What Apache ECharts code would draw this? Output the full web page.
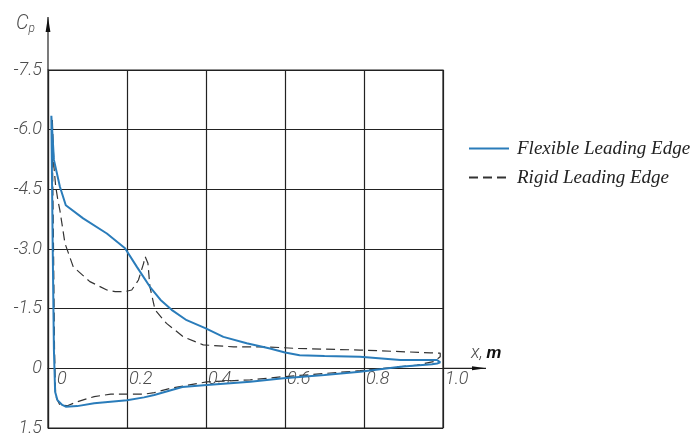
<!DOCTYPE html>
<html><head><meta charset="utf-8">
<script src="https://cdn.jsdelivr.net/npm/echarts@6/dist/echarts.min.js"></script>
<style>html,body{margin:0;padding:0;background:#fff}#c{width:698px;height:434px}</style>
</head><body><div id="c"></div>
<script>
// ---- tick values and labels ----
const xTicks = [0, 0.2, 0.4, 0.6, 0.8, 1.0];
const xTickLabels = ['0', '0.2', '0.4', '0.6', '0.8', '1.0'];
const yTicks = [-7.5, -6, -4.5, -3, -1.5, 0, 1.5];
const yTickLabels = ['-7.5', '-6.0', '-4.5', '-3.0', '-1.5', '0', '1.5'];
const seriesNames = ['Flexible Leading Edge', 'Rigid Leading Edge'];

// ---- Flexible leading edge: upper surface (LE -> TE) ----
const flexUpperX  = [0.0085, 0.012, 0.015, 0.030, 0.045, 0.089, 0.149, 0.195, 0.225, 0.258, 0.285, 0.313, 0.351, 0.398, 0.444, 0.503, 0.562, 0.600, 0.637, 0.700, 0.790, 0.892, 0.985, 0.993];
const flexUpperCp = [-6.35, -5.75, -5.24, -4.57, -4.10, -3.77, -3.39, -3.02, -2.55, -2.05, -1.72, -1.47, -1.21, -1.01, -0.79, -0.63, -0.50, -0.40, -0.33, -0.31, -0.29, -0.21, -0.21, -0.15];
// ---- Flexible leading edge: lower surface (TE -> LE) ----
const flexLowerX  = [0.985, 0.972, 0.892, 0.790, 0.700, 0.596, 0.512, 0.402, 0.340, 0.311, 0.269, 0.243, 0.200, 0.117, 0.074, 0.045, 0.036, 0.024, 0.018, 0.015, 0.012, 0.0094, 0.0085];
const flexLowerCp = [-0.12, -0.10, -0.04, 0.085, 0.17, 0.25, 0.34, 0.42, 0.47, 0.55, 0.67, 0.73, 0.80, 0.88, 0.95, 0.965, 0.92, 0.80, 0.59, -0.46, -2.97, -5.50, -6.35];

// ---- Rigid leading edge: upper surface (LE -> TE) ----
const rigidUpperX  = [0.011, 0.015, 0.0195, 0.025, 0.030, 0.043, 0.064, 0.106, 0.149, 0.170, 0.195, 0.212, 0.229, 0.242, 0.246, 0.253, 0.258, 0.271, 0.300, 0.343, 0.393, 0.470, 0.554, 0.630, 0.790, 0.892, 0.968, 0.993];
const rigidUpperCp = [-6.24, -5.07, -4.57, -4.23, -3.98, -3.14, -2.55, -2.18, -1.97, -1.93, -1.93, -1.97, -2.22, -2.64, -2.81, -2.64, -2.05, -1.47, -1.13, -0.79, -0.59, -0.54, -0.54, -0.50, -0.46, -0.42, -0.39, -0.38];
// ---- Rigid leading edge: lower surface (TE -> LE) ----
const rigidLowerX  = [0.993, 0.976, 0.934, 0.790, 0.596, 0.512, 0.402, 0.334, 0.311, 0.269, 0.243, 0.159, 0.117, 0.074, 0.049, 0.030, 0.0215, 0.019, 0.0165, 0.014, 0.0114, 0.011];
const rigidLowerCp = [-0.29, -0.17, -0.08, 0.06, 0.21, 0.29, 0.34, 0.46, 0.50, 0.61, 0.65, 0.65, 0.71, 0.84, 0.94, 0.92, 0.75, 0.55, -0.46, -2.97, -5.24, -6.24];

function zip(xs, ys) { return xs.map((x, i) => [x, ys[i]]); }
const flexData = zip(flexUpperX.concat(flexLowerX), flexUpperCp.concat(flexLowerCp));
const rigidData = zip(rigidUpperX.concat(rigidLowerX), rigidUpperCp.concat(rigidLowerCp));

function lookup(ticks, labels, v) {
  const i = ticks.findIndex(t => Math.abs(t - v) < 1e-9);
  return i >= 0 ? labels[i] : '';
}

const chart = echarts.init(document.getElementById('c'), null, { renderer: 'canvas' });
const techFont = 'Roboto, "Liberation Sans", sans-serif';
const labelFont = { fontFamily: techFont, fontStyle: 'italic', fontWeight: 300, fontSize: 18, color: '#4d4d4d' };
const gridColor = '#222';

chart.setOption({
  animation: false,
  grid: { left: 48, right: 255, top: 70, bottom: 6, show: true, borderColor: gridColor, borderWidth: 1.2,
          containLabel: false, outerBoundsMode: 'none' },
  xAxis: {
    type: 'value', min: 0, max: 1, interval: 0.2, position: 'bottom', offset: 0,
    axisLine: { onZero: false, lineStyle: { color: gridColor, width: 1.2 } },
    axisTick: { show: false },
    splitLine: { show: true, lineStyle: { color: gridColor, width: 1.2 } },
    axisLabel: {
      ...labelFont, align: 'left', margin: 2,
      formatter: v => (v === 0 ? '{z|' : '{n|') + lookup(xTicks, xTickLabels, v) + '}',
      rich: { z: { ...labelFont, padding: [0, 0, 0, 9] }, n: { ...labelFont, padding: [0, 0, 0, 2] } }
    },
    name: '{a|x,} {b|m}', nameLocation: 'end', nameGap: 28,
    nameTextStyle: {
      align: 'left', verticalAlign: 'bottom', padding: [0, 0, 6, 0],
      rich: {
        a: { fontFamily: techFont, fontStyle: 'italic', fontWeight: 300, fontSize: 18, color: '#4d4d4d' },
        b: { fontFamily: 'Liberation Sans', fontStyle: 'italic', fontWeight: 'bold', fontSize: 17, color: '#111' }
      }
    }
  },
  yAxis: {
    type: 'value', inverse: true, min: -7.5, max: 1.5, interval: 1.5,
    axisLine: { show: true, onZero: false, lineStyle: { color: gridColor, width: 1.2 } },
    axisTick: { show: false },
    splitLine: { show: true, lineStyle: { color: gridColor, width: 1.2 } },
    axisLabel: { ...labelFont, margin: 6, formatter: v => lookup(yTicks, yTickLabels, v) },
    name: '{c|C}{p|p}', nameLocation: 'start', nameGap: 46,
    nameTextStyle: {
      align: 'right', verticalAlign: 'middle', padding: [0, 13, 0, 0],
      rich: {
        c: { fontFamily: techFont, fontStyle: 'italic', fontWeight: 300, fontSize: 20, color: '#4d4d4d' },
        p: { fontFamily: techFont, fontStyle: 'italic', fontWeight: 300, fontSize: 12, color: '#4d4d4d', padding: [10, 0, 0, 0] }
      }
    }
  },
  legend: {
    orient: 'vertical', left: 468, top: 139, padding: 0, itemWidth: 40, itemHeight: 14, itemGap: 10,
    data: seriesNames,
    itemStyle: { opacity: 0 },
    textStyle: { fontFamily: 'Liberation Serif', fontStyle: 'italic', fontSize: 19, color: '#222', padding: [0, 0, 0, 3] }
  },
  series: [
    { type: 'line', name: seriesNames[0], data: flexData, symbol: 'none', z: 3,
      lineStyle: { color: '#2a7cba', width: 2 }, itemStyle: { color: '#2a7cba' } },
    { type: 'line', name: seriesNames[1], data: rigidData, symbol: 'none', z: 2,
      lineStyle: { color: '#333', width: 1.2, type: [9, 5] }, itemStyle: { color: '#333' } }
  ]
});

// move the x axis (line, labels, name) to Cp = 0, computed through the axis scale
const pZero = chart.convertToPixel({ gridIndex: 0 }, [xTicks[0], 0]);
const pBottom = chart.convertToPixel({ gridIndex: 0 }, [xTicks[0], yTicks[yTicks.length - 1]]);
chart.setOption({ xAxis: { offset: pZero[1] - pBottom[1] } });

// axis arrow extensions beyond the plotting box
const pTop = chart.convertToPixel({ gridIndex: 0 }, [xTicks[0], yTicks[0]]);
const pRight = chart.convertToPixel({ gridIndex: 0 }, [xTicks[xTicks.length - 1], 0]);
chart.setOption({
  graphic: [
    { type: 'line', shape: { x1: pTop[0], y1: pTop[1], x2: pTop[0], y2: pTop[1] - 53 }, style: { stroke: gridColor, lineWidth: 1.2 } },
    { type: 'polygon', shape: { points: [[pTop[0], pTop[1] - 53], [pTop[0] - 2.4, pTop[1] - 38], [pTop[0] + 2.4, pTop[1] - 38]] }, style: { fill: '#111' } },
    { type: 'line', shape: { x1: pRight[0], y1: pRight[1], x2: pRight[0] + 43, y2: pRight[1] }, style: { stroke: gridColor, lineWidth: 1.2 } },
    { type: 'polygon', shape: { points: [[pRight[0] + 43, pRight[1]], [pRight[0] + 29, pRight[1] - 2], [pRight[0] + 29, pRight[1] + 2]] }, style: { fill: '#111' } }
  ]
});
</script></body></html>
